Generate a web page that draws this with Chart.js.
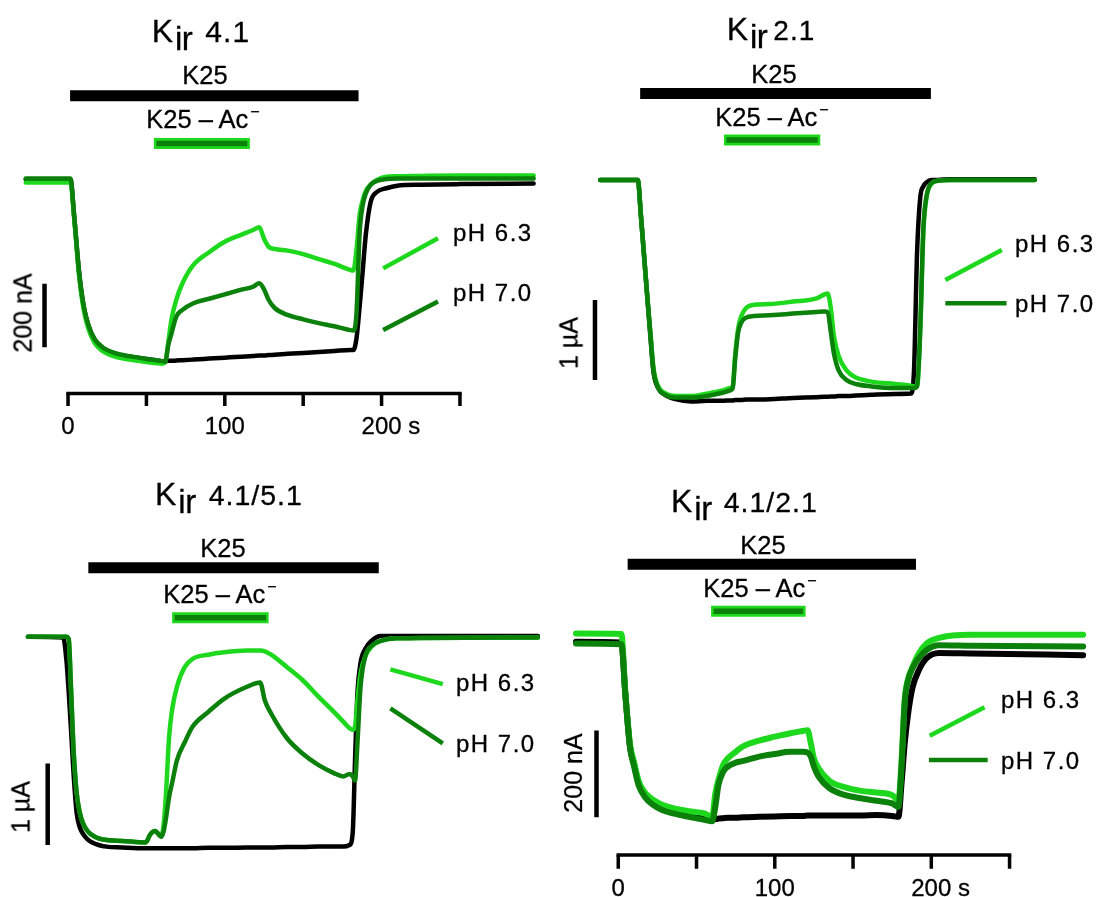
<!DOCTYPE html>
<html>
<head>
<meta charset="utf-8">
<script src="https://cdn.jsdelivr.net/npm/chart.js@4.4.1/dist/chart.umd.min.js"></script>
<style>
  body { margin: 0; background: #fff; width: 1098px; height: 897px; overflow: hidden; position: relative;
         font-family: "Liberation Sans", Arial, sans-serif; color: #000; }
  canvas { position: absolute; }
  .lbl { position: absolute; font-size: 25.5px; line-height: 1; white-space: nowrap; transform: translate(-50%, -50%);
         -webkit-text-stroke: 0.3px #000; }
  .lbl.left { transform: translate(0, -50%); font-size: 24px; letter-spacing: 1.5px; }
  .lbl.rot { transform: translate(-50%, -50%) rotate(-90deg); font-size: 25px; }
  .lbl.tick { font-size: 24px; }
  .lbl sup { font-size: 16px; line-height: 0; vertical-align: 11px; margin-left: 2px; }
  .title { position: absolute; display: flex; align-items: baseline; white-space: nowrap; line-height: 1;
           -webkit-text-stroke: 0.3px #000; }
  .title .k { font-size: 32px; }
  .title .ir { font-size: 33px; position: relative; top: 8px; margin-left: 2px; letter-spacing: -0.5px; }
  .title .n { letter-spacing: 1px; }
</style>
</head>
<body>
<canvas id="p1" width="549" height="448" style="left:0;top:0"></canvas>
<canvas id="p2" width="549" height="448" style="left:549px;top:0"></canvas>
<canvas id="p3" width="549" height="449" style="left:0;top:448px"></canvas>
<canvas id="p4" width="549" height="449" style="left:549px;top:448px"></canvas>
<script>
// ---- data (time in s) ----
// Kir 4.1, current in nA
const k41Time = [-27, 1.5, 4, 7, 10, 13, 17, 22, 30, 40, 50, 60, 62, 64, 66, 69, 73, 80, 90, 100, 110, 118, 122, 125, 128, 132, 140, 150, 160, 170, 180, 182, 184, 186, 188, 190, 193, 197, 203, 210, 225, 250, 297];
const k41Control = [2, 2, -120, -290, -400, -460, -505, -530, -548, -558, -565, -572, -572, -571, -571, -570, -569, -567, -564, -561, -558, -556, -554, -554, -553, -552, -549, -546, -543, -540, -537, -537, -500, -400, -285, -170, -70, -38, -26, -18, -15, -13, -11];
const k41pH63 = [-8, -8, -125, -300, -410, -470, -515, -540, -558, -568, -575, -580, -575, -510, -440, -379, -326, -268, -228, -195, -174, -158, -149, -185, -211, -218, -223, -234, -250, -265, -284, -286, -221, -110, -63, -34, -15, 0, 10, 12, 13, 14, 14];
const k41pH70 = [5, 5, -118, -288, -398, -458, -503, -528, -547, -557, -565, -572, -574, -520, -484, -432, -410, -389, -375, -361, -347, -337, -326, -345, -379, -405, -426, -440, -452, -462, -474, -475, -421, -168, -79, -42, -15, -3, 3, 5, 5, 5, 5];

// Kir 2.1, current in uA
const k21Time = [-23, 1, 3, 5, 7, 9, 11, 14, 18, 25, 35, 45, 55, 60, 61.5, 63, 65, 67, 70, 75, 85, 100, 115, 120, 122, 124, 126, 129, 134, 140, 150, 165, 175, 177, 179, 181, 183, 185, 188, 192, 200, 254];
const k21Control = [0, 0, -0.45, -0.95, -1.45, -1.95, -2.4, -2.6, -2.68, -2.74, -2.77, -2.76, -2.76, -2.755, -2.755, -2.75, -2.75, -2.75, -2.745, -2.745, -2.74, -2.725, -2.715, -2.71, -2.71, -2.705, -2.705, -2.7, -2.7, -2.695, -2.685, -2.675, -2.67, -2.4, -0.9, -0.22, -0.08, -0.03, 0, 0, 0.01, 0.01];
const k21pH63 = [0, 0, -0.45, -0.95, -1.45, -1.9, -2.35, -2.58, -2.66, -2.7, -2.7, -2.67, -2.63, -2.6, -2.58, -2.2, -1.85, -1.7, -1.6, -1.56, -1.55, -1.52, -1.48, -1.43, -1.42, -1.6, -1.95, -2.2, -2.38, -2.47, -2.52, -2.55, -2.57, -2.58, -2.58, -1.9, -0.65, -0.22, -0.05, -0.01, 0, 0];
const k21pH70 = [0, 0, -0.45, -0.95, -1.45, -1.92, -2.38, -2.6, -2.68, -2.72, -2.72, -2.7, -2.66, -2.63, -2.6, -2.25, -1.9, -1.78, -1.72, -1.7, -1.69, -1.67, -1.65, -1.645, -1.65, -1.9, -2.17, -2.38, -2.5, -2.55, -2.58, -2.6, -2.6, -2.6, -2.58, -1.85, -0.6, -0.2, -0.04, -0.01, 0, 0];

// Kir 4.1/5.1, current in uA
const k4151Time = [-25, -2.5, -0.5, 1, 2.5, 4, 6, 8, 10, 13, 16, 20, 25, 35, 50, 53, 56, 60, 61.5, 63, 65, 67, 70, 75, 80, 90, 100, 115, 123, 126, 130, 140, 150, 160, 170, 176, 180, 182, 183.5, 185, 187, 190, 194, 200, 210, 300];
const k4151Control = [0, -0.01, -0.28, -0.68, -1.15, -1.65, -2.15, -2.33, -2.41, -2.48, -2.52, -2.55, -2.57, -2.58, -2.59, -2.59, -2.59, -2.59, -2.59, -2.59, -2.59, -2.59, -2.59, -2.59, -2.59, -2.585, -2.585, -2.58, -2.58, -2.58, -2.58, -2.575, -2.575, -2.57, -2.57, -2.57, -2.55, -2.4, -1.5, -0.7, -0.32, -0.15, -0.05, 0.01, 0.01, 0.01];
const k4151pH63 = [0, 0, 0, -0.03, -0.65, -1.35, -1.9, -2.15, -2.28, -2.38, -2.43, -2.47, -2.49, -2.5, -2.52, -2.42, -2.38, -2.44, -2.3, -1.92, -1.22, -0.88, -0.61, -0.37, -0.27, -0.22, -0.19, -0.17, -0.17, -0.18, -0.22, -0.37, -0.53, -0.73, -0.92, -1.04, -1.12, -1.14, -1.1, -0.78, -0.45, -0.24, -0.12, -0.05, -0.02, -0.01];
const k4151pH70 = [0, 0, 0, -0.03, -0.65, -1.35, -1.9, -2.15, -2.28, -2.38, -2.43, -2.47, -2.49, -2.5, -2.52, -2.42, -2.38, -2.45, -2.38, -2.22, -1.96, -1.78, -1.51, -1.29, -1.1, -0.92, -0.76, -0.61, -0.56, -0.78, -0.94, -1.24, -1.43, -1.57, -1.67, -1.71, -1.68, -1.71, -1.76, -1.31, -0.61, -0.24, -0.11, -0.05, -0.02, -0.01];

// Kir 4.1/2.1, current in nA
const k4121Time = [-27, 2, 4.5, 7.5, 10, 13, 17, 22, 28, 35, 45, 55, 60, 62, 64, 67, 70, 75, 80, 90, 100, 110, 118, 121, 123, 125, 128, 135, 145, 155, 165, 175, 179, 181, 183, 185, 188, 192, 197, 205, 225, 297];
const k4121Control = [-4, -6, -123, -246, -285, -330, -358, -375, -388, -395, -402, -410, -415, -413, -412, -411, -410, -410, -409, -408, -407, -406, -406, -405, -405, -405, -405, -405, -405, -405, -404, -406, -408, -330, -240, -175, -110, -70, -42, -30, -31, -35];
const k4121pH63 = [15, 14, -120, -240, -280, -325, -352, -368, -380, -388, -395, -400, -408, -354, -323, -288, -273, -258, -245, -232, -223, -215, -210, -208, -238, -273, -296, -325, -340, -348, -352, -358, -369, -277, -138, -92, -62, -31, -8, 5, 12, 12];
const k4121pH70 = [-8, -10, -125, -248, -290, -335, -362, -380, -392, -400, -408, -415, -418, -385, -335, -304, -292, -283, -279, -269, -263, -258, -258, -260, -269, -292, -315, -342, -358, -365, -371, -377, -385, -292, -146, -96, -65, -42, -23, -12, -13, -15];

// solution application periods [start, end] in s
const k41K25 = [1.3, 185.3], k41Acetate = [54.8, 116];
const k21K25 = [2.5, 187.8], k21Acetate = [55.9, 117.3];
const k4151K25 = [13.5, 198.6], k4151Acetate = [66.9, 128.4];
const k4121K25 = [6.0, 190.2], k4121Acetate = [59.3, 119.7];

// time axis ticks
const timeTicks = [0, 50, 100, 150, 200, 250];
const timeTickLabels = ['0', '', '100', '', '200', ''];

const BLACK = '#000000', LIGHT = '#1ed81e', DARK = '#0b800b';

// ---- panel layout (positions in data units of each panel) ----
const panels = [
  { id: 'p1', left: 0, top: 0, xMin: -43.4, xMax: 306.8, yMin: -846.3, yMax: 568.4,
    time: k41Time, control: k41Control, pH63: k41pH63, pH70: k41pH70, k25: k41K25, acetate: k41Acetate,
    k25Y: 266, acY: 115, scaleX: -15, scaleTop: -328, scaleSize: 200, lw: 4.5,
    leg63: [[201, -279], [236, -184]], leg70: [[201, -474], [236, -384]],
    axisY: -674, tickBottom: -714, tickLabelY: 426 },
  { id: 'p2', left: 549, top: 0, xMin: -55.6, xMax: 294.3, yMin: -3.35, yMax: 2.25,
    time: k21Time, control: k21Control, pH63: k21pH63, pH70: k21pH70, k25: k21K25, acetate: k21Acetate,
    k25Y: 1.08, acY: 0.5, scaleX: -26.3, scaleTop: -1.5, scaleSize: 1, lw: 4.5,
    leg63: [[197, -1.25], [233, -0.875]], leg70: [[197, -1.54], [236, -1.54]] },
  { id: 'p3', left: 0, top: 448, xMin: -42.8, xMax: 307.1, yMin: -3.187, yMax: 2.311,
    time: k4151Time, control: k4151Control, pH63: k4151pH63, pH70: k4151pH70, k25: k4151K25, acetate: k4151Acetate,
    k25Y: 0.845, acY: 0.233, scaleX: -12.4, scaleTop: -1.551, scaleSize: 1, lw: 4.5,
    leg63: [[206, -0.4], [239.4, -0.58]], leg70: [[206, -0.878], [239.4, -1.306]] },
  { id: 'p4', left: 549, top: 448, xMin: -44.25, xMax: 306.5, yMin: -592.9, yMax: 443,
    time: k4121Time, control: k4121Control, pH63: k4121pH63, pH70: k4121pH70, k25: k4121K25, acetate: k4121Acetate,
    k25Y: 174.6, acY: 66.1, scaleX: -13.9, scaleTop: -209, scaleSize: 200, lw: 6,
    leg63: [[199, -221], [234, -155]], leg70: [[198.5, -277], [236, -277]],
    axisY: -496, tickBottom: -528, tickLabelY: 888 }
];

function trace(time, values, color, width) {
  return {
    data: time.map((t, i) => ({ x: t, y: values[i] })),
    borderColor: color, borderWidth: width, pointRadius: 0, fill: false,
    cubicInterpolationMode: 'monotone', borderJoinStyle: 'round', borderCapStyle: 'round'
  };
}
function seg(points, color, width, cap) {
  return {
    data: points.map(p => ({ x: p[0], y: p[1] })),
    borderColor: color, borderWidth: width, pointRadius: 0, fill: false, tension: 0,
    borderCapStyle: cap || 'butt'
  };
}

function addText(html, x, y, cls) {
  const d = document.createElement('div');
  d.className = 'lbl' + (cls ? ' ' + cls : '');
  d.innerHTML = html;
  d.style.left = x + 'px';
  d.style.top = y + 'px';
  document.body.appendChild(d);
  return d;
}
function addTitle(name, left, baseline, gap, size) {
  const d = document.createElement('div');
  d.className = 'title';
  d.style.left = left + 'px';
  d.style.top = (baseline - 0.847 * 33) + 'px';
  d.innerHTML = '<span class="k">K</span><span class="ir">ir</span>' +
    '<span class="n" style="margin-left:' + gap + 'px;font-size:' + size + 'px">' + name + '</span>';
  document.body.appendChild(d);
}

panels.forEach(p => {
  const ds = [
    trace(p.time, p.pH70, DARK, p.lw),
    trace(p.time, p.pH63, LIGHT, p.lw),
    trace(p.time, p.control, BLACK, p.lw),
    seg([[p.k25[0], p.k25Y], [p.k25[1], p.k25Y]], BLACK, 11),
    seg([[p.acetate[0] + 1.6, p.acY], [p.acetate[1] - 1.6, p.acY]], DARK, 5.5),
    seg([[p.acetate[0], p.acY], [p.acetate[1], p.acY]], LIGHT, 11),
    seg([[p.scaleX, p.scaleTop], [p.scaleX, p.scaleTop - p.scaleSize]], BLACK, 4.5),
    seg(p.leg63, LIGHT, 4.5),
    seg(p.leg70, DARK, 4.5)
  ];
  if (p.axisY !== undefined) {
    ds.push(seg([[timeTicks[0], p.axisY], [timeTicks[timeTicks.length - 1], p.axisY]], BLACK, 3.5, 'square'));
    timeTicks.forEach(t => ds.push(seg([[t, p.axisY], [t, p.tickBottom]], BLACK, 3.5)));
  }
  const chart = new Chart(document.getElementById(p.id), {
    type: 'line',
    data: { datasets: ds },
    options: {
      responsive: false,
      animation: false,
      events: [],
      layout: { padding: 0 },
      plugins: { legend: { display: false }, tooltip: { enabled: false } },
      scales: {
        x: { type: 'linear', display: false, min: p.xMin, max: p.xMax },
        y: { type: 'linear', display: false, min: p.yMin, max: p.yMax }
      }
    }
  });
  if (p.axisY !== undefined) {
    timeTicks.forEach((t, i) => {
      if (!timeTickLabels[i]) return;
      const x = p.left + chart.scales.x.getPixelForValue(t);
      const html = t === 200 ? '200<span style="position:absolute;left:100%">&nbsp;s</span>' : timeTickLabels[i];
      addText(html, x, p.tickLabelY, 'tick');
    });
  }
});

// titles
addTitle('4.1', 151.7, 41.7, 13, 30);
addTitle('2.1', 726.7, 40, 6, 28);
addTitle('4.1/5.1', 155, 505, 13, 28.5);
addTitle('4.1/2.1', 671, 511.7, 12, 28.5);

// solution labels
addText('K25', 205, 76);
addText('K25 – Ac<sup>−</sup>', 203, 119.5);
addText('K25', 774, 75);
addText('K25 – Ac<sup>−</sup>', 772, 117.5);
addText('K25', 223, 549);
addText('K25 – Ac<sup>−</sup>', 220, 595);
addText('K25', 763, 546);
addText('K25 – Ac<sup>−</sup>', 760, 588.5);

// pH legends
addText('pH 6.3', 453, 232.5, 'left');
addText('pH 7.0', 453, 293, 'left');
addText('pH 6.3', 1015, 243.5, 'left');
addText('pH 7.0', 1015, 304, 'left');
addText('pH 6.3', 456, 683, 'left');
addText('pH 7.0', 456, 744, 'left');
addText('pH 6.3', 1001, 700, 'left');
addText('pH 7.0', 1001, 761, 'left');

// scale bar labels
addText('200 nA', 22.5, 313, 'rot');
addText('1 µA', 569, 343, 'rot');
addText('1 µA', 21, 807, 'rot');
addText('200 nA', 573, 773, 'rot');
</script>
</body>
</html>
